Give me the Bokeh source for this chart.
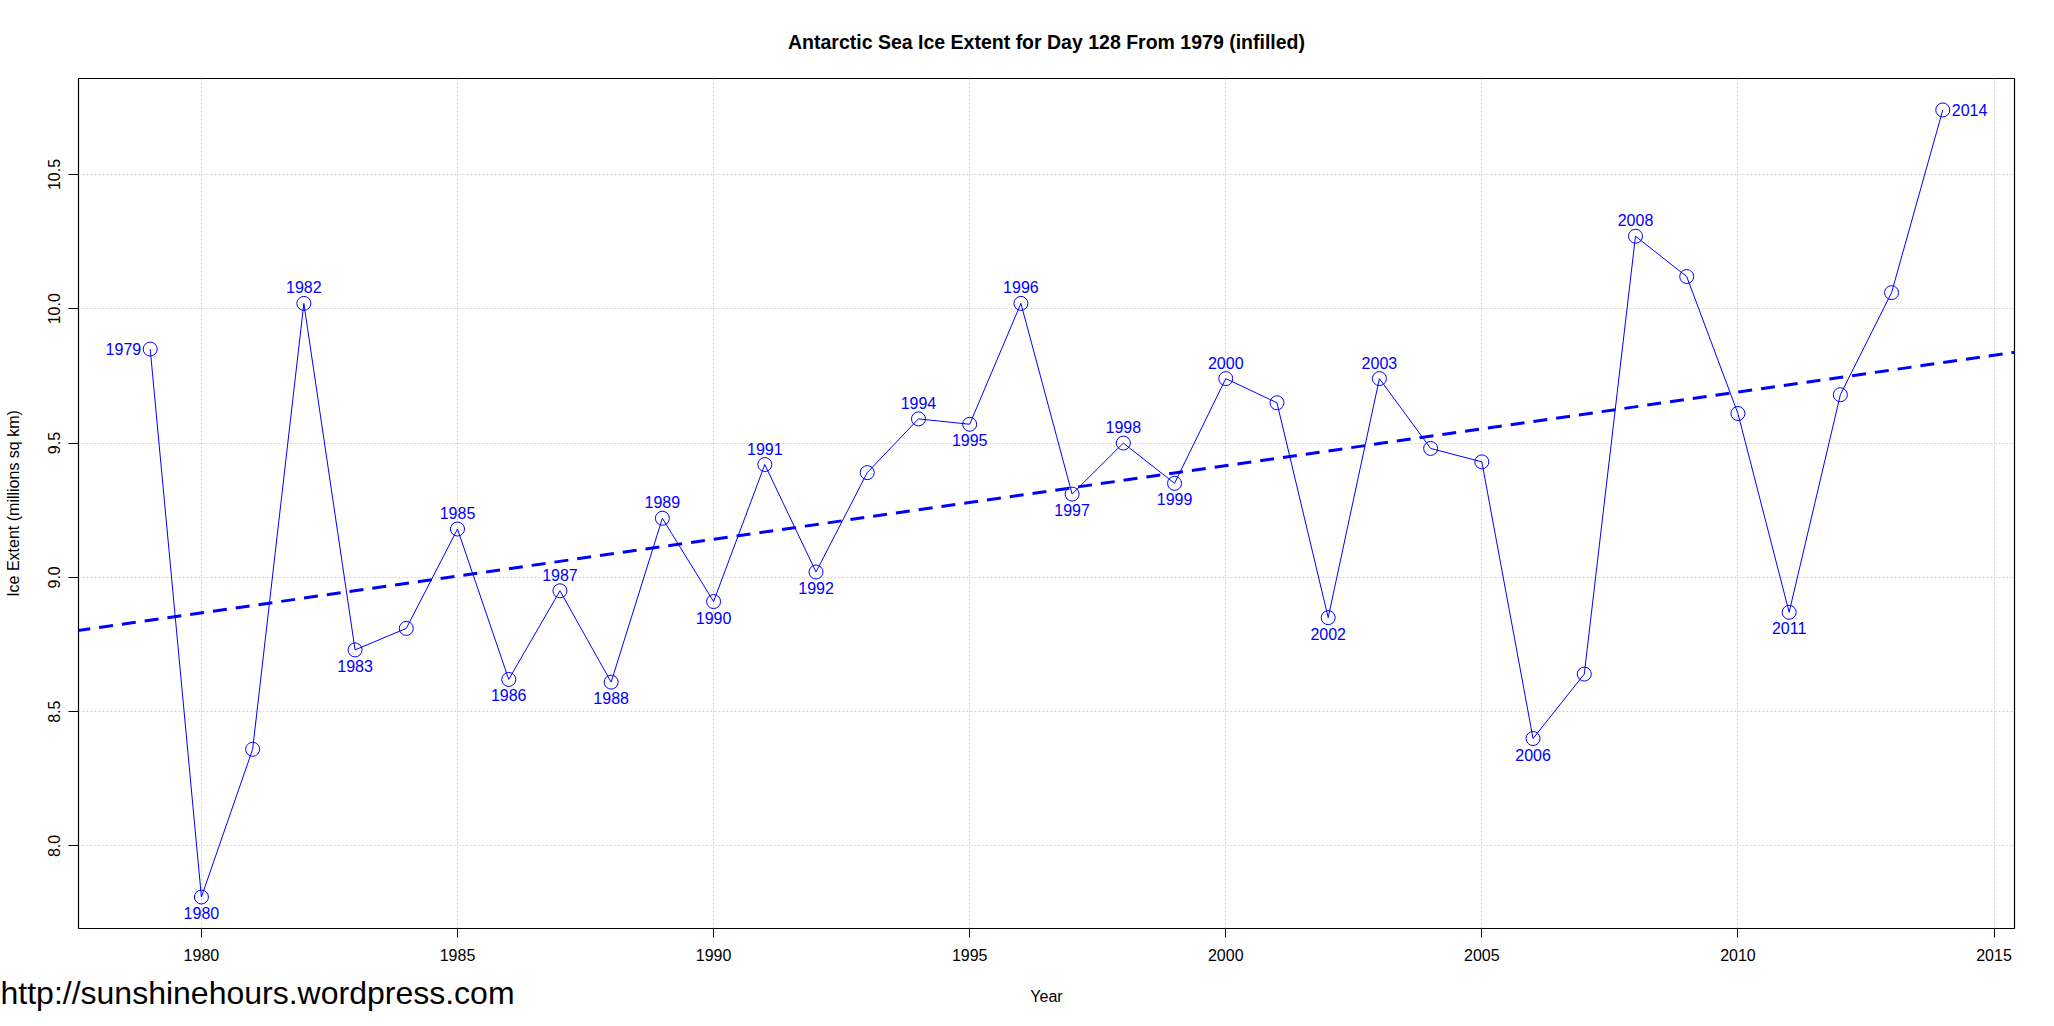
import numpy as np
from bokeh.plotting import figure
from bokeh.models import Range1d, FixedTicker, PrintfTickFormatter, Slope, Label, ColumnDataSource
from bokeh.core.properties import value
from bokeh.embed import file_html
from bokeh.resources import INLINE

# ---- data ----
years = list(range(1979, 2015))
extent = [9.85, 7.81, 8.36, 10.02, 8.73, 8.81, 9.18, 8.62, 8.95, 8.61,
          9.22, 8.91, 9.42, 9.02, 9.39, 9.59, 9.57, 10.02, 9.31, 9.50,
          9.35, 9.74, 9.65, 8.85, 9.74, 9.48, 9.43, 8.40, 8.64, 10.27,
          10.12, 9.61, 8.87, 9.68, 10.06, 10.74]
label_years = [1979, 1980, 1982, 1983, 1985, 1986, 1987, 1988, 1989, 1990,
               1991, 1992, 1994, 1995, 1996, 1997, 1998, 1999, 2000, 2002,
               2003, 2006, 2008, 2011, 2014]
label_sides = ["left", "below", "above", "below", "above", "below", "above", "below", "above", "below",
               "above", "below", "above", "below", "above", "below", "above", "below", "above", "below",
               "above", "below", "above", "below", "right"]
x_ticks = [1980, 1985, 1990, 1995, 2000, 2005, 2010, 2015]
y_ticks = [8.0, 8.5, 9.0, 9.5, 10.0, 10.5]

TITLE = "Antarctic Sea Ice Extent for Day 128 From 1979 (infilled)"
X_LABEL = "Year"
Y_LABEL = "Ice Extent (millions sq km)"
URL = "http://sunshinehours.wordpress.com"
FONT = "Liberation Sans"
BLUE = "#0000FF"

# R-style 4% padded ranges
def padded(vals):
    lo, hi = min(vals), max(vals)
    pad = 0.04 * (hi - lo)
    return lo - pad, hi + pad

xr = padded(years)
yr = padded(extent)

p = figure(width=2038, height=1026, output_backend="svg", toolbar_location=None,
           x_range=Range1d(*xr), y_range=Range1d(*yr),
           min_border_left=78, min_border_right=24, min_border_top=78, min_border_bottom=98)

p.background_fill_color = "white"
p.border_fill_color = "white"
p.outline_line_color = "black"
p.outline_line_width = 1.2

# title
p.title.text = TITLE
p.title.align = "center"
p.title.text_font = FONT
p.title.text_font_size = "19.5px"
p.title.text_font_style = "bold"
p.title.text_color = "black"
p.title.standoff = 52

# axes
for ax in (p.xaxis[0], p.yaxis[0]):
    ax.axis_line_color = None
    ax.major_tick_line_color = "black"
    ax.major_tick_in = 0
    ax.minor_tick_line_color = None
    ax.major_label_text_font = FONT
    ax.major_label_text_font_size = "16px"
    ax.major_label_text_color = "black"
    ax.axis_label_text_font = FONT
    ax.axis_label_text_font_size = "16px"
    ax.axis_label_text_font_style = "normal"
    ax.axis_label_text_color = "black"

p.xaxis.ticker = FixedTicker(ticks=x_ticks)
p.xaxis.major_tick_out = 9
p.xaxis.major_label_standoff = 11

p.yaxis.ticker = FixedTicker(ticks=y_ticks)
p.yaxis.formatter = PrintfTickFormatter(format="%.1f")
p.yaxis.major_label_orientation = "vertical"
p.yaxis.major_tick_out = 10
p.yaxis.major_label_standoff = 8
p.yaxis.axis_label = Y_LABEL
p.yaxis.axis_label_standoff = 24

# grid
p.xgrid.ticker = FixedTicker(ticks=x_ticks)
p.ygrid.ticker = FixedTicker(ticks=y_ticks)
p.grid.grid_line_color = "#D3D3D3"
p.grid.grid_line_dash = "2 2"
p.grid.grid_line_width = 1

# trend line (least squares fit of the data)
slope, intercept = np.polyfit(years, extent, 1)
p.add_layout(Slope(gradient=slope, y_intercept=intercept, line_color=BLUE,
                   line_width=3, line_dash="14 9"))

# series
p.line(years, extent, line_color=BLUE, line_width=1)
p.scatter(years, extent, marker="circle", size=14, fill_color=None,
          line_color=BLUE, line_width=1)

# year labels
lookup = dict(zip(years, extent))
offsets = {
    "above": dict(text_align="center", x_offset=0, y_offset=-16),
    "below": dict(text_align="center", x_offset=0, y_offset=16),
    "left": dict(text_align="right", x_offset=-9, y_offset=0),
    "right": dict(text_align="left", x_offset=9, y_offset=0),
}
for side, kw in offsets.items():
    xs = [yv for yv, s in zip(label_years, label_sides) if s == side]
    if not xs:
        continue
    src = ColumnDataSource(dict(x=xs, y=[lookup[v] for v in xs], t=[str(v) for v in xs]))
    p.text(x="x", y="y", text="t", source=src, text_color=BLUE,
           text_font=value(FONT), text_font_size="16px",
           text_baseline="middle", **kw)

# x-axis title and watermark, placed in bottom side panels (not clipped to the frame)
p.add_layout(Label(x=968, y=-16, x_units="screen", y_units="screen", text=X_LABEL,
                   text_font=FONT, text_font_size="16px", text_color="black",
                   text_align="center", text_baseline="middle"), "below")
p.add_layout(Label(x=-78, y=24, x_units="screen", y_units="screen", text=URL,
                   text_font=FONT, text_font_size="32px", text_color="black",
                   text_baseline="middle"), "below")

open("out.html", "w").write(file_html(p, INLINE))
